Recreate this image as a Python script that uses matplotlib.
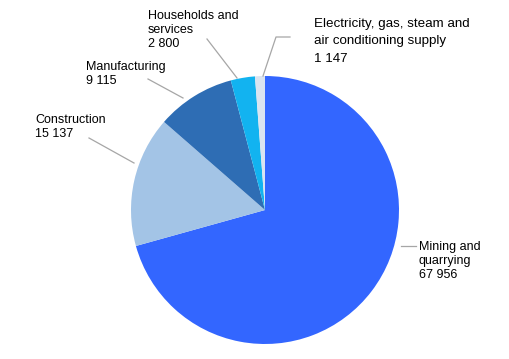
import matplotlib
matplotlib.use("Agg")
import matplotlib.pyplot as plt

# data
categories = ["Mining and\nquarrying", "Construction", "Manufacturing",
              "Households and\nservices", "Electricity, gas, steam and\nair conditioning supply"]
values = [67956, 15137, 9115, 2800, 1147]
value_labels = ["67 956", "15 137", "9 115", "2 800", "1 147"]
colors = ["#3366FF", "#A3C4E6", "#2E6DB4", "#12B3F0", "#DAE4F0"]

W, H = 510, 359


def py(y):
    # pixel from top -> data y
    return H - y


fig = plt.figure(figsize=(W / 100, H / 100), dpi=100)
ax = fig.add_axes([0, 0, 1, 1])

ax.pie(values, colors=colors, startangle=90, counterclock=False,
       center=(265, py(210)), radius=134,
       wedgeprops=dict(linewidth=0))

# pie() resets the limits, so set them afterwards
ax.set_xlim(0, W)
ax.set_ylim(0, H)
ax.set_aspect("equal")
ax.axis("off")

# label placement (top-left of text, pixels) and leader lines
text_pos = [(419, 241), (35, 114), (86, 61), (148, 10), (314, 18)]
spacing = [1.22, 1.22, 1.22, 1.22, 1.6]
sizes = [9, 9, 9, 9, 9.6]
leaders = [
    [(416, 246), (401, 246)],
    [(89, 138), (134, 163)],
    [(148, 79), (183, 98)],
    [(207, 39), (237, 78)],
    [(290, 37), (276, 37), (263, 76)],
]

for name, lab, (tx, ty), ls, fs in zip(categories, value_labels, text_pos, spacing, sizes):
    ax.text(tx, py(ty), name + "\n" + lab, ha="left", va="top",
            fontsize=fs, family="Liberation Sans", color="#000000",
            linespacing=ls)

for pts in leaders:
    xs = [p[0] for p in pts]
    ys = [py(p[1]) for p in pts]
    ax.plot(xs, ys, color="#A6A6A6", linewidth=0.9)

fig.savefig("out.png", dpi=100)
